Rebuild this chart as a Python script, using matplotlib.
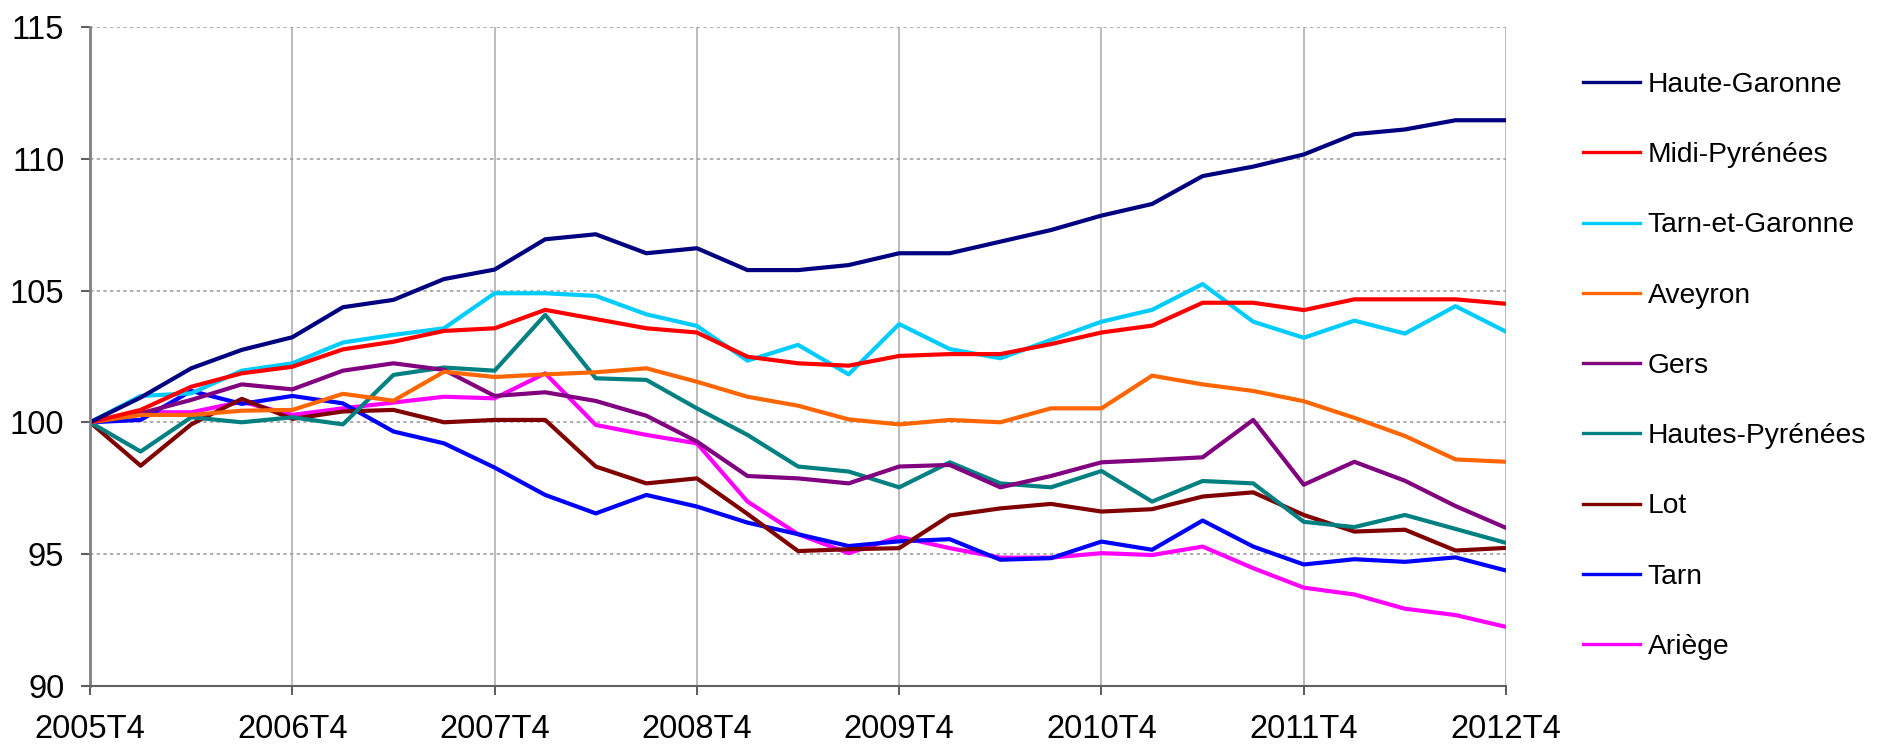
import matplotlib
matplotlib.use("Agg")
import matplotlib.pyplot as plt
import numpy as np

plt.rcParams['font.family'] = ['Liberation Sans', 'DejaVu Sans']

# quarters 2005T4 .. 2012T4
quarters = [f"{y}T{q}" for y in range(2005, 2013) for q in range(1, 5)][3:]
year_labels = [f"{y}T4" for y in range(2005, 2013)]

haute_garonne = [100, 100.94, 102.05, 102.75, 103.23, 104.37, 104.65, 105.44, 105.8,
                 106.95, 107.14, 106.42, 106.61, 105.78, 105.78, 105.97, 106.42,
                 106.42, 106.86, 107.30, 107.85, 108.29, 109.35, 109.71, 110.17,
                 110.94, 111.12, 111.47, 111.47]
midi_pyrenees = [100, 100.47, 101.35, 101.86, 102.11, 102.77, 103.06, 103.47, 103.57,
                 104.27, 103.92, 103.57, 103.41, 102.49, 102.24, 102.15, 102.52,
                 102.59, 102.59, 102.97, 103.41, 103.67, 104.54, 104.54, 104.26,
                 104.67, 104.67, 104.67, 104.5]
tarn_et_garonne = [100, 101.0, 101.1, 101.96, 102.24, 103.03, 103.32, 103.57, 104.9,
                   104.9, 104.8, 104.1, 103.66, 102.34, 102.94, 101.82, 103.73,
                   102.78, 102.43, 103.13, 103.82, 104.27, 105.25, 103.82, 103.21,
                   103.86, 103.37, 104.41, 103.44]
aveyron = [100, 100.28, 100.28, 100.44, 100.47, 101.08, 100.82, 101.92, 101.72,
           101.82, 101.9, 102.05, 101.54, 100.97, 100.63, 100.11, 99.92,
           100.09, 100.0, 100.53, 100.53, 101.77, 101.44, 101.19, 100.8,
           100.17, 99.48, 98.59, 98.5]
gers = [100, 100.34, 100.85, 101.44, 101.25, 101.96, 102.24, 101.99, 101.0,
        101.14, 100.81, 100.25, 99.27, 97.96, 97.87, 97.68, 98.32,
        98.38, 97.53, 97.96, 98.48, 98.57, 98.67, 100.09, 97.63,
        98.5, 97.78, 96.82, 95.99]
hautes_pyrenees = [100, 98.89, 100.19, 100.0, 100.19, 99.92, 101.8, 102.08, 101.96,
                   104.08, 101.67, 101.61, 100.53, 99.52, 98.32, 98.13, 97.53,
                   98.48, 97.68, 97.53, 98.15, 96.99, 97.77, 97.68, 96.22,
                   96.02, 96.48, 95.95, 95.42]
lot = [100, 98.35, 99.92, 100.89, 100.13, 100.41, 100.47, 100.0, 100.09,
       100.09, 98.32, 97.68, 97.87, 96.52, 95.11, 95.18, 95.22,
       96.46, 96.73, 96.9, 96.61, 96.7, 97.18, 97.34, 96.48,
       95.85, 95.92, 95.13, 95.23]
tarn = [100, 100.09, 101.19, 100.7, 101.0, 100.72, 99.65, 99.2, 98.28,
        97.24, 96.54, 97.24, 96.8, 96.19, 95.75, 95.3, 95.48,
        95.56, 94.78, 94.84, 95.47, 95.16, 96.27, 95.28, 94.6,
        94.8, 94.7, 94.87, 94.37]
ariege = [100, 100.38, 100.38, 100.78, 100.28, 100.53, 100.75, 100.97, 100.91,
          101.86, 99.9, 99.52, 99.2, 96.99, 95.75, 95.03, 95.65,
          95.22, 94.86, 94.86, 95.03, 94.96, 95.28, 94.46, 93.72,
          93.46, 92.92, 92.68, 92.23]

series = [
    ("Haute-Garonne", haute_garonne, "#000080"),
    ("Midi-Pyrénées", midi_pyrenees, "#FF0000"),
    ("Tarn-et-Garonne", tarn_et_garonne, "#00CCFF"),
    ("Aveyron", aveyron, "#FF6600"),
    ("Gers", gers, "#800080"),
    ("Hautes-Pyrénées", hautes_pyrenees, "#008080"),
    ("Lot", lot, "#800000"),
    ("Tarn", tarn, "#0000FF"),
    ("Ariège", ariege, "#FF00FF"),
]

fig = plt.figure(figsize=(18.84, 7.48), dpi=100)
ax = fig.add_axes([0.0478, 0.0834, 0.7516, 0.8801])

x = np.arange(len(quarters))
# draw in reverse so Haute-Garonne ends up on top like the original
for name, vals, col in series[::-1]:
    ax.plot(x, vals, color=col, lw=3.0, label=name)

ax.set_xlim(0, len(quarters) - 1)
ax.set_ylim(90, 115)
ax.set_yticks(np.arange(90, 116, 5))
ax.set_xticks(x[::4])
ax.set_xticklabels(year_labels)
ax.tick_params(axis='both', labelsize=23.5, length=6.5, width=1.2, color='#404040')
ax.tick_params(axis='x', pad=14)
ax.tick_params(axis='y', pad=12)

ax.xaxis.grid(True, color='#b0b0b0', lw=1.2, ls='-')
ax.yaxis.grid(True, color='#a0a0a0', lw=1.2, ls=(0, (2, 2)))
ax.set_axisbelow(True)

for side in ['top', 'right']:
    ax.spines[side].set_visible(False)
ax.spines['left'].set_color('#808080')
ax.spines['left'].set_linewidth(2)
ax.spines['bottom'].set_color('#606060')
ax.spines['bottom'].set_linewidth(1.5)

handles, labels = ax.get_legend_handles_labels()
leg = ax.legend(handles[::-1], labels[::-1], loc='upper left',
                bbox_to_anchor=(0.8345, 0.919), bbox_transform=fig.transFigure,
                frameon=False, fontsize=20.3, handlelength=2.0,
                handletextpad=0.28, labelspacing=1.57, borderaxespad=0)
for line in leg.get_lines():
    line.set_linewidth(2.4)

fig.savefig("out.png", dpi=100)
